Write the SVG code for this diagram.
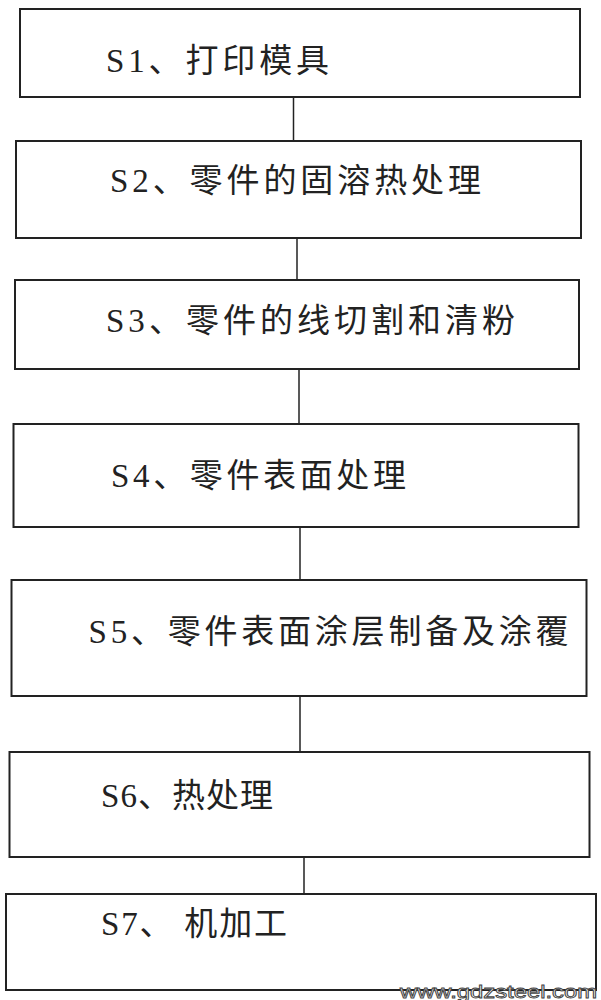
<svg xmlns="http://www.w3.org/2000/svg" width="601" height="1000" viewBox="0 0 601 1000">
<style>
.box{fill:#fff;stroke:#222;stroke-width:2}
.lbl{font-family:"Liberation Serif","Noto Sans CJK SC",serif;font-size:33px;fill:#222;dominant-baseline:central}
.con{stroke:#222;stroke-width:1.5;fill:none}
.wm{font-family:"Liberation Sans",sans-serif;font-size:19px;fill:#fff;stroke:#444;stroke-width:0.9}
</style>
<rect width="601" height="1000" fill="#fff"/>
<g id="connectors">
<line class="con" x1="293.5" y1="97" x2="293.5" y2="141"/>
<line class="con" x1="297" y1="238" x2="297" y2="280"/>
<line class="con" x1="299" y1="369" x2="299" y2="424"/>
<line class="con" x1="300" y1="527" x2="300" y2="580"/>
<line class="con" x1="300" y1="696" x2="300" y2="752"/>
<line class="con" x1="304" y1="857" x2="304" y2="894"/>
</g>
<g id="s1"><rect class="box" x="20" y="9" width="560" height="88"/><text class="lbl" x="106" y="61" textLength="223" lengthAdjust="spacing">S1、打印模具</text></g>
<g id="s2"><rect class="box" x="16" y="141" width="565" height="97"/><text class="lbl" x="110" y="181" textLength="371" lengthAdjust="spacing">S2、零件的固溶热处理</text></g>
<g id="s3"><rect class="box" x="15" y="280" width="564" height="89"/><text class="lbl" x="106" y="321" textLength="409" lengthAdjust="spacing">S3、零件的线切割和清粉</text></g>
<g id="s4"><rect class="box" x="13.5" y="424" width="565" height="103"/><text class="lbl" x="111" y="476" textLength="295" lengthAdjust="spacing">S4、零件表面处理</text></g>
<g id="s5"><rect class="box" x="11.5" y="580" width="575" height="116"/><text class="lbl" x="88.5" y="632" textLength="480" lengthAdjust="spacing">S5、零件表面涂层制备及涂覆</text></g>
<g id="s6"><rect class="box" x="9.5" y="752" width="580" height="105"/><text class="lbl" x="101" y="796" textLength="172" lengthAdjust="spacing">S6、热处理</text></g>
<g id="s7"><rect class="box" x="6" y="894" width="590" height="96"/><text class="lbl" x="101" y="924" textLength="186" lengthAdjust="spacing">S7、 机加工</text></g>
<text class="wm" x="400" y="998" textLength="197" lengthAdjust="spacingAndGlyphs">www.gdzsteel.com</text>
</svg>
